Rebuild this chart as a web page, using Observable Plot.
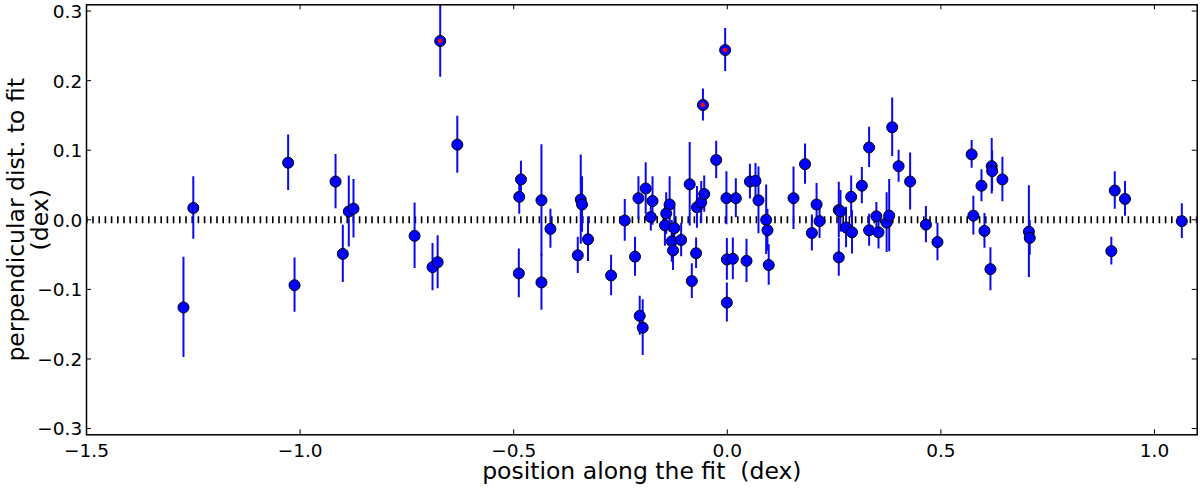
<!DOCTYPE html>
<html><head><meta charset="utf-8">
<script src="https://cdn.jsdelivr.net/npm/d3@7"></script>
<script src="https://cdn.jsdelivr.net/npm/@observablehq/plot@0.6"></script>
<style>body{margin:0;background:#fff}</style>
</head><body><div id="chart"></div>
<script>
const posX = [-1.273,-1.250,-1.028,-1.013,-0.917,-0.900,-0.886,-0.875,-0.732,-0.690,-0.678,-0.672,-0.632,-0.483,-0.487,-0.488,-0.435,-0.435,-0.414,-0.350,-0.343,-0.340,-0.326,-0.272,-0.240,-0.216,-0.208,-0.205,-0.198,-0.191,-0.175,-0.179,-0.135,-0.143,-0.146,-0.124,-0.130,-0.127,-0.108,-0.088,-0.083,-0.073,-0.071,-0.061,-0.054,-0.057,-0.026,-0.005,-0.002,-0.001,-0.001,0.013,0.020,0.045,0.053,0.066,0.073,0.091,0.094,0.097,0.155,0.182,0.209,0.198,0.216,0.261,0.261,0.265,0.278,0.290,0.292,0.315,0.332,0.332,0.349,0.354,0.373,0.379,0.386,0.401,0.428,0.465,0.492,0.572,0.576,0.595,0.602,0.619,0.620,0.616,0.644,0.706,0.708,0.899,0.907,0.931,1.064];
const perpDist = [-0.126,0.017,0.082,-0.094,0.055,-0.049,0.012,0.016,-0.023,-0.068,-0.061,0.257,0.108,0.058,0.033,-0.077,0.028,-0.090,-0.013,-0.051,0.029,0.022,-0.028,-0.080,-0.001,-0.053,0.031,-0.138,-0.155,0.045,0.027,0.004,0.022,0.009,-0.008,-0.012,-0.031,-0.044,-0.029,0.051,-0.088,-0.048,0.018,0.025,0.037,0.165,0.086,0.244,0.031,-0.057,-0.119,-0.056,0.031,-0.059,0.055,0.056,0.028,0.000,-0.015,-0.065,0.031,0.080,0.022,-0.019,-0.002,-0.054,0.014,0.012,-0.011,0.033,-0.018,0.049,0.104,-0.015,0.005,-0.018,-0.004,0.006,0.133,0.077,0.055,-0.007,-0.032,0.094,0.006,0.049,-0.016,0.077,0.070,-0.071,0.058,-0.017,-0.026,-0.045,0.042,0.030,-0.002];
const perpErr = [0.072,0.045,0.040,0.039,0.039,0.041,0.051,0.042,0.047,0.034,0.038,0.052,0.041,0.026,0.025,0.035,0.080,0.040,0.028,0.026,0.064,0.040,0.032,0.029,0.030,0.028,0.031,0.028,0.040,0.037,0.035,0.020,0.040,0.030,0.030,0.030,0.030,0.029,0.024,0.060,0.025,0.022,0.030,0.030,0.026,0.023,0.027,0.031,0.038,0.030,0.028,0.030,0.028,0.031,0.025,0.025,0.048,0.050,0.030,0.029,0.045,0.029,0.030,0.026,0.025,0.027,0.040,0.030,0.029,0.030,0.031,0.026,0.029,0.023,0.020,0.024,0.043,0.052,0.042,0.023,0.041,0.026,0.027,0.020,0.028,0.023,0.025,0.040,0.029,0.031,0.032,0.066,0.025,0.020,0.027,0.025,0.025];
const flaggedIdx = [11, 45, 47];
const xTicks = [-1.5, -1.0, -0.5, 0.0, 0.5, 1.0];
const yTicks = [-0.3, -0.2, -0.1, 0.0, 0.1, 0.2, 0.3];
const xLabel = "position along the fit \u00a0(dex)";
const yLabel = "perpendicular dist. to fit\n(dex)";

const data = posX.map((x, i) => ({x, y: perpDist[i], e: perpErr[i], flagged: flaggedIdx.includes(i)}));
const W = 1200, H = 489, ml = 86, mr = 3.3, mt = 4.3, mb = 54.7;
const fw = W - ml - mr, fh = H - mt - mb, tk = 5;
const fmt = d3.format(".1f");

const plot = Plot.plot({
  width: W, height: H,
  marginLeft: ml, marginRight: mr, marginTop: mt, marginBottom: mb,
  style: {fontFamily: "'DejaVu Sans', sans-serif", background: "#fff", color: "black"},
  x: {domain: [-1.5, 1.1], label: null},
  y: {domain: [-0.309, 0.309], label: null},
  marks: [
    Plot.ruleY([0], {stroke: "black", strokeWidth: 7, strokeDasharray: "1.6,4.6"}),
    Plot.ruleX(data, {x: "x", y1: d => d.y - d.e, y2: d => d.y + d.e, stroke: "#0a0af0", strokeWidth: 2, clip: true}),
    Plot.dot(data, {x: "x", y: "y", r: 5.5, fill: "#0000ff", stroke: "black", strokeWidth: 1, clip: true}),
    Plot.dot(data.filter(d => d.flagged), {x: "x", y: "y", r: 2.3, fill: "#ff0000", stroke: "none"}),
    Plot.frame({stroke: "black", strokeWidth: 1.5}),
    Plot.ruleX(xTicks, {x: d => d, insetTop: fh - tk, stroke: "black"}),
    Plot.ruleX(xTicks, {x: d => d, insetBottom: fh - tk, stroke: "black"}),
    Plot.ruleY(yTicks, {y: d => d, insetRight: fw - tk, stroke: "black"}),
    Plot.ruleY(yTicks, {y: d => d, insetLeft: fw - tk, stroke: "black"}),
    Plot.axisX(xTicks, {tickSize: 0, tickPadding: 8.6, tickFormat: fmt, fontSize: 18.5, label: null}),
    Plot.axisY(yTicks, {tickSize: 0, tickPadding: 4.3, tickFormat: fmt, fontSize: 18.5, label: null, dy: 1}),
    Plot.text([xLabel], {text: d => d, frameAnchor: "bottom", dy: 36.5, fontSize: 23.5, lineAnchor: "middle", textAnchor: "middle"}),
    Plot.text([yLabel], {text: d => d, frameAnchor: "left", dx: -58, rotate: -90, fontSize: 23.5, lineAnchor: "middle", textAnchor: "middle", lineHeight: 1})
  ]
});
document.getElementById("chart").appendChild(plot);
</script>
</body></html>
